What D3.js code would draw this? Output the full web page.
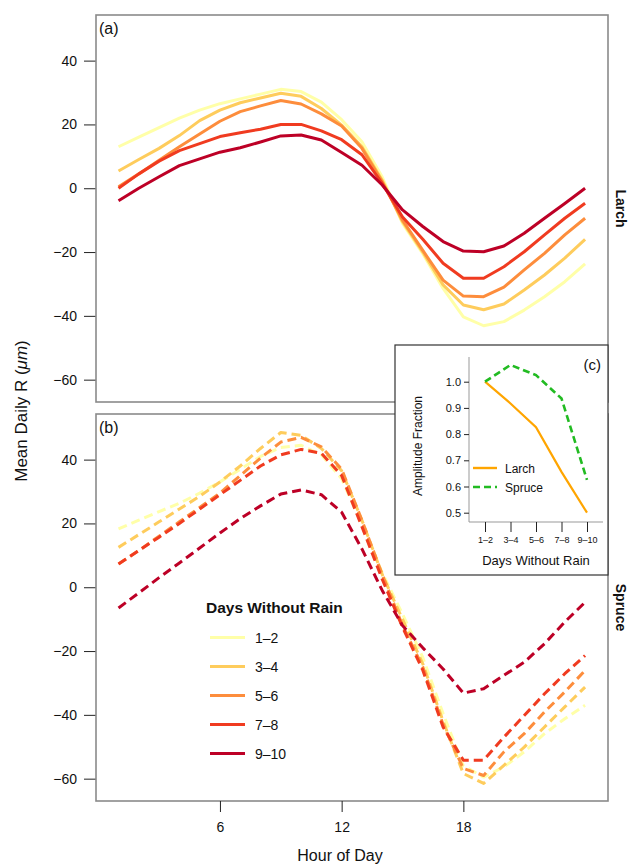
<!DOCTYPE html>
<html>
<head>
<meta charset="utf-8">
<script src="https://cdn.jsdelivr.net/npm/d3@7/dist/d3.min.js"></script>
<style>
  body { margin: 0; background: #fff; }
  svg { display: block; }
  text { font-family: "Liberation Sans", Arial, Helvetica, sans-serif; fill: #111; }
</style>
</head>
<body>
<svg id="chart" width="629" height="864"></svg>
<script>
// Hour of day for each mean value
const hours = [1,2,3,4,5,6,7,8,9,10,11,12,13,14,15,16,17,18,19,20,21,22,23,24];

// Classes of days without rain and their colours
const dryClasses = ["1–2", "3–4", "5–6", "7–8", "9–10"];
const classColors = ["#FFFFA8", "#FECC5C", "#FD8D3C", "#F03B20", "#BD0026"];

// Larch: mean daily R (µm) by hour
const larch1_2  = [13, 16, 19, 22, 24.5, 26.5, 28, 29.5, 31, 30.3, 27, 21.5, 14.6, 3.5, -11, -20.5, -31.4, -40.3, -43.1, -41.8, -38.2, -34, -29.3, -23.7];
const larch3_4  = [5.4, 9, 12.5, 16.5, 21.2, 24.5, 26.8, 28.3, 29.8, 28.8, 25, 19.8, 13, 2.5, -10.5, -20, -30.3, -36.6, -38.1, -36.3, -31.9, -27.2, -21.9, -16];
const larch5_6  = [0.5, 4.5, 8.8, 13, 17, 21, 24, 25.8, 27.5, 26.4, 23.3, 19.5, 12.5, 2, -10, -19.5, -28.8, -33.8, -34, -31, -25.6, -20.4, -14.6, -9.4];
const larch7_8  = [0, 4.5, 8.5, 11.8, 14, 16.2, 17.4, 18.5, 20, 20, 18, 15.2, 10.5, 1.5, -9, -16, -23.5, -28.2, -28.2, -24.6, -19.9, -14.6, -9.4, -4.7];
const larch9_10 = [-3.9, 0, 3.6, 7.1, 9.2, 11.3, 12.7, 14.5, 16.4, 16.7, 15.1, 11.2, 7.2, 1, -6.8, -12, -16.7, -19.7, -19.9, -18.1, -14.1, -9.4, -4.8, 0];

// Spruce: mean daily R (µm) by hour
const spruce1_2  = [18.3, 21, 23.7, 26.3, 29.5, 33, 37, 41, 43.8, 44.5, 41.5, 34, 19.5, 4.5, -8.4, -22, -39.6, -56, -59.5, -56.3, -51.6, -45.9, -41.2, -37];
const spruce3_4  = [12.5, 16.5, 20.5, 24.5, 28.5, 33, 38, 43.5, 48.5, 47.6, 43.5, 36.5, 21, 4, -10, -24, -42, -58.4, -61.5, -55.8, -50.1, -43.8, -37.5, -31.3];
const spruce5_6  = [7.3, 11.5, 16, 20.5, 25, 29.5, 35, 40.5, 45.5, 47, 44, 37, 21, 4, -12, -25, -43, -56.8, -59, -51.6, -45.9, -39.1, -32.8, -26.1];
const spruce7_8  = [7.3, 11.5, 15.7, 20, 24.5, 29, 33.5, 38, 41.5, 43.2, 42, 35, 19, 2.5, -12.5, -26, -43.8, -54.2, -54.2, -47, -40.2, -33.4, -27.1, -21.4];
const spruce9_10 = [-6.5, -1.8, 3, 7.6, 12.3, 17, 21.5, 25.5, 29.2, 30.5, 29, 23.5, 12, -1, -12, -19, -25.6, -33.2, -31.8, -27.6, -23.5, -17.7, -10.9, -4.7];

// Amplitude fraction relative to the 1–2 day class
const larchAmplitude  = [1.0, 0.917, 0.826, 0.656, 0.5];
const spruceAmplitude = [1.0, 1.064, 1.025, 0.936, 0.625];

// Axis ticks
const rTicks = [-60, -40, -20, 0, 20, 40];
const hourTicks = [6, 12, 18];
const ampTicks = [0.5, 0.6, 0.7, 0.8, 0.9, 1.0];

const larchSeries  = [larch1_2, larch3_4, larch5_6, larch7_8, larch9_10];
const spruceSeries = [spruce1_2, spruce3_4, spruce5_6, spruce7_8, spruce9_10];

const svg = d3.select("#chart");
const boxColor = "#8a8a8a";

const x = d3.scaleLinear().domain([-0.11, 25.13]).range([96, 608]);
const yDomain = [-67, 54.3];
const yA = d3.scaleLinear().domain(yDomain).range([402, 15]);
const yB = d3.scaleLinear().domain(yDomain).range([801, 414]);

function drawPanel(yScale, series, dashed, label, sideLabel) {
  const g = svg.append("g");
  const [top, bottom] = [yScale.range()[1], yScale.range()[0]];
  const clipId = "clip-" + label.replace(/[()]/g, "");
  svg.append("clipPath").attr("id", clipId)
    .append("rect").attr("x", 96).attr("y", top).attr("width", 512).attr("height", bottom - top);

  const line = d3.line().x((d, i) => x(hours[i])).y(d => yScale(d));
  const lines = g.append("g").attr("clip-path", `url(#${clipId})`);
  series.forEach((vals, k) => {
    lines.append("path")
      .datum(vals)
      .attr("d", line)
      .attr("fill", "none")
      .attr("stroke", classColors[k])
      .attr("stroke-width", 3)
      .attr("stroke-linejoin", "round")
      .attr("stroke-dasharray", dashed ? "9,5" : null);
  });

  // y axis
  const ax = g.append("g").attr("transform", "translate(96,0)")
    .call(d3.axisLeft(yScale).tickValues(rTicks).tickSize(12).tickPadding(7));
  ax.select(".domain").remove();
  ax.selectAll(".tick line").attr("stroke", "#222");
  ax.selectAll(".tick text").attr("font-size", 14).attr("fill", "#111")
    .style("font-family", "'Liberation Sans', Arial, sans-serif");

  // panel frame
  g.append("rect").attr("x", 96).attr("y", top).attr("width", 512).attr("height", bottom - top)
    .attr("fill", "none").attr("stroke", boxColor).attr("stroke-width", 1.6);

  g.append("text").attr("x", 99).attr("y", top + 19).attr("font-size", 16).text(label);

  const cy = (top + bottom) / 2;
  g.append("text")
    .attr("transform", `translate(616,${cy}) rotate(90)`)
    .attr("text-anchor", "middle")
    .attr("font-size", 14).attr("font-weight", "bold")
    .text(sideLabel);
  return g;
}

drawPanel(yA, larchSeries, false, "(a)", "Larch");
drawPanel(yB, spruceSeries, true, "(b)", "Spruce");

// x axis under panel (b)
const xAx = svg.append("g").attr("transform", "translate(0,801)")
  .call(d3.axisBottom(x).tickValues(hourTicks).tickSize(11).tickPadding(10));
xAx.select(".domain").remove();
xAx.selectAll(".tick line").attr("stroke", "#222");
xAx.selectAll(".tick text").attr("font-size", 14).attr("fill", "#111")
  .style("font-family", "'Liberation Sans', Arial, sans-serif");

svg.append("text").attr("x", 340).attr("y", 861).attr("text-anchor", "middle")
  .attr("font-size", 16).text("Hour of Day");

const yLabel = svg.append("text").attr("transform", "translate(27,411) rotate(-90)")
  .attr("text-anchor", "middle").attr("font-size", 17);
yLabel.append("tspan").text("Mean Daily R (");
yLabel.append("tspan").attr("font-style", "italic").text("μm");
yLabel.append("tspan").text(")");

// legend in panel (b)
const leg = svg.append("g");
leg.append("text").attr("x", 206).attr("y", 613).attr("font-size", 15.5)
  .attr("font-weight", "bold").text("Days Without Rain");
dryClasses.forEach((c, k) => {
  const yy = 637.5 + k * 29;
  leg.append("line").attr("x1", 210).attr("x2", 245).attr("y1", yy).attr("y2", yy)
    .attr("stroke", classColors[k]).attr("stroke-width", 3);
  leg.append("text").attr("x", 255).attr("y", yy + 5).attr("font-size", 14).text(c);
});

// inset (c)
const inset = svg.append("g");
inset.append("rect").attr("x", 395).attr("y", 345).attr("width", 213).attr("height", 230)
  .attr("fill", "#fff").attr("stroke", "#333").attr("stroke-width", 1.2);

const xi = d3.scalePoint().domain(dryClasses).range([485, 587]);
const yi = d3.scaleLinear().domain([0.5, 1.0]).range([512.7, 381.7]);

inset.append("line").attr("x1", 469).attr("x2", 469).attr("y1", 357).attr("y2", 522)
  .attr("stroke", "#999").attr("stroke-width", 1);
inset.append("line").attr("x1", 469).attr("x2", 603).attr("y1", 522).attr("y2", 522)
  .attr("stroke", "#999").attr("stroke-width", 1);

const iy = inset.append("g").attr("transform", "translate(469,0)")
  .call(d3.axisLeft(yi).tickValues(ampTicks).tickSize(5).tickPadding(3).tickFormat(d3.format(".1f")));
iy.select(".domain").remove();
iy.selectAll(".tick line").attr("stroke", "#222");
iy.selectAll(".tick text").attr("font-size", 11).attr("fill", "#111")
  .style("font-family", "'Liberation Sans', Arial, sans-serif");

const ix = inset.append("g").attr("transform", "translate(0,522)")
  .call(d3.axisBottom(xi).tickSize(10).tickPadding(5));
ix.select(".domain").remove();
ix.selectAll(".tick line").attr("stroke", "#222");
ix.selectAll(".tick text").attr("font-size", 9).attr("fill", "#111")
  .style("font-family", "'Liberation Sans', Arial, sans-serif");

const iline = d3.line().x((d, i) => xi(dryClasses[i])).y(d => yi(d));
inset.append("path").datum(larchAmplitude).attr("d", iline)
  .attr("fill", "none").attr("stroke", "#FFA500").attr("stroke-width", 2.2);
inset.append("path").datum(spruceAmplitude).attr("d", iline)
  .attr("fill", "none").attr("stroke", "#22BB22").attr("stroke-width", 2.6)
  .attr("stroke-dasharray", "7,4");

inset.append("text").attr("x", 536).attr("y", 565).attr("text-anchor", "middle")
  .attr("font-size", 13).text("Days Without Rain");
inset.append("text").attr("transform", "translate(422,446) rotate(-90)")
  .attr("text-anchor", "middle").attr("font-size", 12).text("Amplitude Fraction");
inset.append("text").attr("x", 601).attr("y", 370).attr("text-anchor", "end")
  .attr("font-size", 15).text("(c)");

// inset legend
[["Larch", "#FFA500", null, 468], ["Spruce", "#22BB22", "7,4", 487]].forEach(([name, col, dash, yy]) => {
  inset.append("line").attr("x1", 473).attr("x2", 497).attr("y1", yy).attr("y2", yy)
    .attr("stroke", col).attr("stroke-width", 2.4).attr("stroke-dasharray", dash);
  inset.append("text").attr("x", 505).attr("y", yy + 4.5).attr("font-size", 12).text(name);
});
</script>
</body>
</html>
